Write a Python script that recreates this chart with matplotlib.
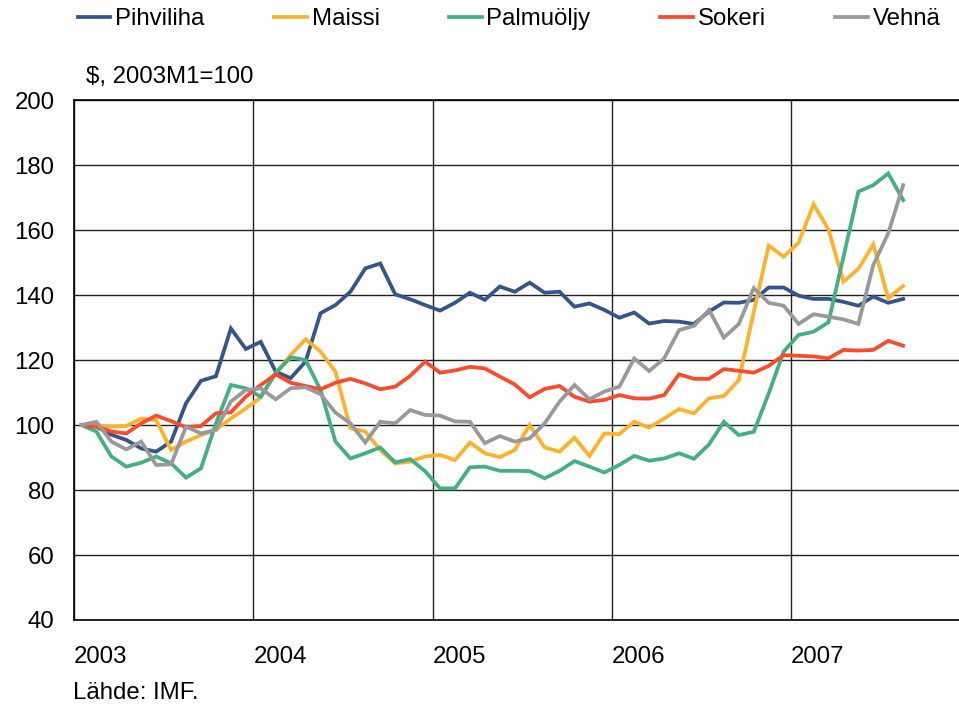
"""
Raaka-aineiden hinnat 2003-2007 (IMF), indeksi $, 2003M1=100.
"""

import matplotlib
matplotlib.use("Agg")
import matplotlib.pyplot as plt
import numpy as np

plt.rcParams["font.family"] = ["Liberation Sans", "DejaVu Sans"]

# monthly data 2003M1 .. 2007M8
years = ["2003", "2004", "2005", "2006", "2007"]

pihviliha = [100, 99.5, 97, 95.4, 92.8, 91.8, 94.9, 106.7, 113.6, 115, 129.7, 123.4,
             125.6, 116.4, 114.4, 119.5, 134.4, 136.9, 141, 148.2, 149.7, 140.2, 138.7, 136.9,
             135.2, 137.6, 140.7, 138.5, 142.6, 141, 143.8, 140.7, 141, 136.4, 137.4, 135.4,
             133, 134.6, 131.2, 132, 131.8, 131.1, 134.9, 137.7, 137.6, 138.5, 142.3, 142.3,
             139.8, 138.8, 138.8, 137.9, 136.7, 139.5, 137.6, 138.8]
maissi = [100, 100, 99.5, 99.7, 102, 101.5, 92.3, 94.9, 96.9, 98.5, 102, 105.1,
          108.5, 116, 121.5, 126.4, 122.6, 116.4, 99, 98, 92.3, 88.2, 88.7, 90.3,
          90.8, 89.2, 94.6, 91.3, 90.1, 92.3, 100, 93.1, 91.8, 96.1, 90.5, 97.4,
          97.2, 101, 99.2, 102, 104.9, 103.6, 108.2, 108.9, 113.8, 134.8, 155.2, 151.8,
          156.1, 167.9, 160.2, 144.1, 148, 155.6, 139, 142.8]
palmuoljy = [100, 98, 90.3, 87.2, 88.4, 90.3, 88.2, 83.8, 86.7, 100.5, 112.3, 111.3,
             108.7, 116, 120.8, 120, 110.8, 94.9, 89.7, 91.3, 93.1, 88.5, 89.5, 85.8,
             80.5, 80.5, 87, 87.2, 85.9, 85.9, 85.8, 83.6, 85.9, 88.9, 87.2, 85.4,
             87.7, 90.5, 89, 89.7, 91.3, 89.6, 94, 101, 96.9, 97.9, 109.7, 122.6,
             127.7, 128.7, 131.6, 151.7, 171.8, 173.8, 177.4, 169.2]
sokeri = [100, 99.5, 98, 97.4, 100.5, 102.9, 101.2, 99.3, 99.7, 103.6, 103.9, 108.7,
          112.3, 115.6, 113, 112, 111, 113, 114.2, 112.8, 111, 111.8, 115.1, 119.5,
          116.1, 116.8, 117.9, 117.4, 114.9, 112.5, 108.5, 111.1, 112, 108.7, 107.2, 107.7,
          109.2, 108.2, 108.1, 109.2, 115.6, 114.2, 114.2, 117.2, 116.7, 116.1, 118.2, 121.5,
          121.3, 121.1, 120.5, 123.1, 122.9, 123.1, 125.9, 124.4]
vehna = [100, 101, 94.9, 92.5, 94.9, 87.7, 87.9, 99.5, 97.4, 98.5, 107.2, 110.8,
         111.3, 107.9, 111.3, 111.6, 109.5, 103.8, 100.5, 94.6, 101, 100.5, 104.6, 103.1,
         102.9, 101.1, 101, 94.4, 96.6, 94.9, 95.9, 100.5, 107.2, 112.3, 107.9, 110.3,
         111.8, 120.5, 116.6, 120.5, 129.2, 130.5, 135.4, 126.9, 131.1, 142.1, 137.6, 136.7,
         131.1, 134.1, 133.3, 132.5, 131.1, 149.2, 159, 173.8]

series = [
    ("Pihviliha", pihviliha, "#33558C"),
    ("Maissi", maissi, "#FFB12A"),
    ("Palmuöljy", palmuoljy, "#42B081"),
    ("Sokeri", sokeri, "#FF4A2A"),
    ("Vehnä", vehna, "#999999"),
]

W, H = 959, 705
fig = plt.figure(figsize=(W / 100, H / 100), dpi=100)
month_px = 14.94
# axes runs to 2007M12, right part falls outside the picture like in the original
ax = fig.add_axes([74 / W, 1 - 620 / H, 60 * month_px / W, 520 / H])

x = np.arange(len(pihviliha)) + 0.5  # mid-month
for name, vals, col in series:
    ax.plot(x, vals, color=col, lw=2.7, label=name, solid_joinstyle="miter")

ax.set_xlim(0, 60)
ax.set_ylim(40, 200)
ax.set_yticks(np.arange(40, 201, 20))
ax.set_xticks(np.arange(len(years)) * 12)
ax.set_xticklabels(years, ha="left")
ax.tick_params(axis="both", length=0, labelsize=17.3, colors="black")
ax.tick_params(axis="x", pad=19)
ax.tick_params(axis="y", pad=14)
ax.grid(True, color="#222222", lw=1.0)
ax.set_axisbelow(True)
for s in ax.spines.values():
    s.set_color("black")
    s.set_linewidth(1.2)

fig.text(86 / W, 1 - 83 / H, "$, 2003M1=100", fontsize=17.3, va="baseline", ha="left")
fig.text(73 / W, 1 / H, "Lähde: IMF.", fontsize=17.3, va="bottom", ha="left")

fig.legend(loc="center left", bbox_to_anchor=(78 / W, 1 - 19 / H), ncol=5,
           frameon=False, fontsize=17.3, handlelength=1.35, handletextpad=0.2,
           columnspacing=2.9, borderpad=0, borderaxespad=0)

fig.savefig("out.png", dpi=100)
